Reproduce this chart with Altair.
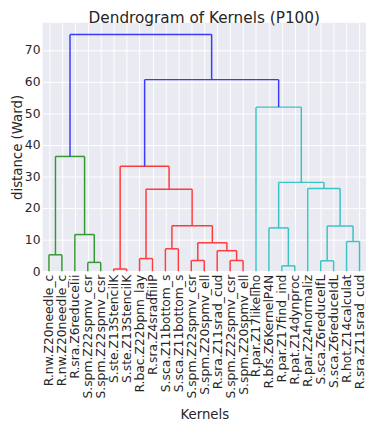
import json
import altair as alt
import pandas as pd

leaf_labels = [
    "R.nw.Z20needle_c", "R.nw.Z20needle_c", "R.sra.Z6reduceIii",
    "S.spm.Z22spmv_csr", "S.spm.Z22spmv_csr", "S.ste.Z13StencilK",
    "S.ste.Z13StencilK", "R.bac.Z22bpnn_lay", "R.sra.Z4sradfiiIP",
    "S.sca.Z11bottom_s", "S.sca.Z11bottom_s", "S.spm.Z22spmv_csr",
    "S.spm.Z20spmv_ell", "R.sra.Z11srad_cud", "S.spm.Z22spmv_csr",
    "S.spm.Z20spmv_ell", "R.par.Z17likeliho", "R.bfs.Z6KernelP4N",
    "R.par.Z17find_ind", "R.pat.Z14dynproc", "R.par.Z24normaliz",
    "S.sca.Z6reduceIfL", "S.sca.Z6reduceIdL", "R.hot.Z14calculat",
    "R.sra.Z11srad_cud",
]

# linkage (ids < 25 are leaves in display order, ids >= 25 are earlier merges)
merge_left = [5, 18, 3, 21, 11, 14, 7, 0, 13, 9, 29, 23, 2, 17, 28, 34, 31, 20, 38, 25, 32, 16, 44, 45]
merge_right = [6, 19, 4, 22, 12, 15, 8, 1, 30, 10, 33, 24, 27, 26, 36, 35, 40, 39, 42, 41, 37, 43, 46, 47]
merge_height = [0.7, 1.7, 2.8, 3.3, 3.4, 3.4, 4.0, 5.2, 6.5, 7.1, 9.0, 9.4, 11.6, 13.7,
                14.3, 14.4, 25.9, 26.2, 28.1, 33.2, 36.3, 51.9, 60.6, 74.9]
merge_color = ["r", "c", "g", "c", "r", "r", "r", "g", "r", "r", "r", "c", "g", "c",
               "c", "r", "r", "c", "c", "r", "g", "c", "b", "b"]

color_keys = ["g", "r", "c", "b"]
color_values = ["#339933", "#ff3b3b", "#3cc3c3", "#3a3aff"]

n = len(leaf_labels)
pos = {i: 5 + 10 * i for i in range(n)}
top = {i: 0.0 for i in range(n)}
rows = []
for k, (a, b, h, c) in enumerate(zip(merge_left, merge_right, merge_height, merge_color)):
    xa, xb = pos[a], pos[b]
    rows.append(dict(x=xa, x2=xa, y=top[a], y2=h, c=c))
    rows.append(dict(x=xb, x2=xb, y=top[b], y2=h, c=c))
    rows.append(dict(x=xa, x2=xb, y=h, y2=h, c=c))
    pos[n + k] = (xa + xb) / 2
    top[n + k] = h

df = pd.DataFrame(rows)
tick_vals = [5 + 10 * i for i in range(n)]
label_expr = f"{json.dumps(leaf_labels)}[round((datum.value - 5) / 10)]"

font = "DejaVu Sans"
chart = alt.Chart(df).mark_rule(strokeWidth=1.5).encode(
    x=alt.X("x:Q", scale=alt.Scale(domain=[0, 250], nice=False, zero=False),
            axis=alt.Axis(values=tick_vals, labelExpr=label_expr, labelAngle=270,
                          labelAlign="right", labelBaseline="middle",
                          labelOverlap=False, labelFlush=False, labelPadding=3,
                          title="Kernels", titlePadding=10)),
    x2="x2:Q",
    y=alt.Y("y:Q", scale=alt.Scale(domain=[0, 78.6], nice=False),
            axis=alt.Axis(values=[0, 10, 20, 30, 40, 50, 60, 70], labelPadding=2.5,
                          title="distance (Ward)", titlePadding=0)),
    y2="y2:Q",
    color=alt.Color("c:N", scale=alt.Scale(domain=color_keys, range=color_values), legend=None),
).properties(
    width=328,
    height=252,
    title=alt.TitleParams("Dendrogram of Kernels (P100)", fontSize=15.5, font=font,
                          fontWeight="normal", color="#262626", offset=-4,
                          frame="group", anchor="middle"),
    padding={"left": 2, "top": 0, "right": 0, "bottom": 0},
).configure_view(
    fill="#EAEAF2", stroke=None
).configure_axis(
    grid=True, gridColor="#ffffff", gridWidth=1, domain=False, ticks=False,
    labelFont=font, labelFontSize=12.5, labelColor="#262626",
    titleFont=font, titleFontSize=13.5, titleFontWeight="normal", titleColor="#262626",
)

chart.save("out.html", embed_options={"renderer": "svg", "actions": False})
